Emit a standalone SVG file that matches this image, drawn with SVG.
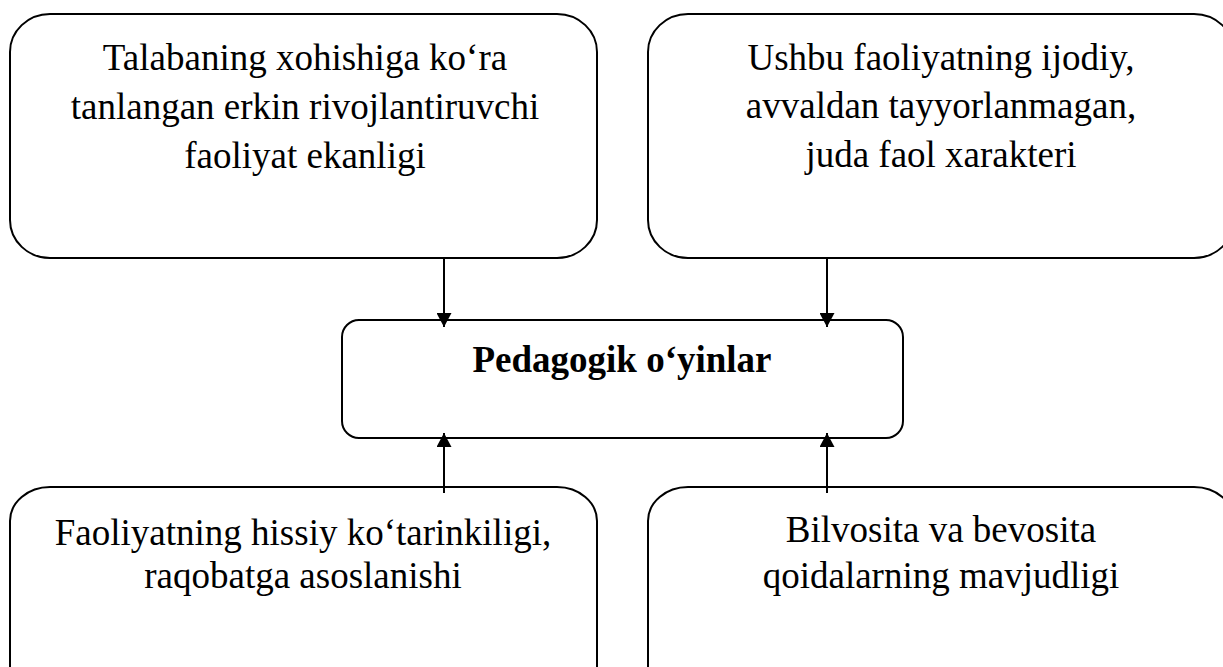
<svg xmlns="http://www.w3.org/2000/svg" width="1223" height="667" viewBox="0 0 1223 667">
<style>
.box{fill:#ffffff;stroke:#000000;stroke-width:2}
.t{font-family:"Liberation Serif","Times New Roman",serif;font-size:37px;fill:#000000;text-anchor:middle}
.b{font-weight:bold}
.con{stroke:#000000;stroke-width:2;fill:none}
</style>
<defs>
<marker id="ah" viewBox="0 0 14 15" refX="14" refY="7.5" markerWidth="14" markerHeight="15" markerUnits="userSpaceOnUse" orient="auto">
<path d="M0,0 L14,7.5 L0,15 Z" fill="#000000"/>
</marker>
</defs>
<rect width="1223" height="667" fill="#ffffff"/>
<g id="node-top-left">
<rect class="box" x="10" y="14" width="587" height="244" rx="40" ry="38"/>
<text class="t" x="305" y="70">Talabaning xohishiga ko‘ra</text>
<text class="t" x="305" y="119">tanlangan erkin rivojlantiruvchi</text>
<text class="t" x="305" y="168">faoliyat ekanligi</text>
</g>
<g id="node-top-right">
<rect class="box" x="648" y="14" width="586" height="244" rx="40" ry="38"/>
<text class="t" x="941" y="70">Ushbu faoliyatning ijodiy,</text>
<text class="t" x="941" y="118">avvaldan tayyorlanmagan,</text>
<text class="t" x="941" y="167">juda faol xarakteri</text>
</g>
<g id="node-center">
<rect class="box" x="342" y="320" width="561" height="118" rx="17" ry="17"/>
<text class="t b" x="622" y="372">Pedagogik o‘yinlar</text>
</g>
<g id="node-bottom-left">
<rect class="box" x="10" y="487" width="587" height="220" rx="40" ry="34"/>
<text class="t" x="303" y="545">Faoliyatning hissiy ko‘tarinkiligi,</text>
<text class="t" x="303" y="588">raqobatga asoslanishi</text>
</g>
<g id="node-bottom-right">
<rect class="box" x="648" y="487" width="586" height="220" rx="40" ry="34"/>
<text class="t" x="941" y="542">Bilvosita va bevosita</text>
<text class="t" x="941" y="588">qoidalarning mavjudligi</text>
</g>
<g id="connectors">
<line class="con" x1="444" y1="258" x2="444" y2="327" marker-end="url(#ah)"/>
<line class="con" x1="827" y1="258" x2="827" y2="327" marker-end="url(#ah)"/>
<line class="con" x1="444" y1="493" x2="444" y2="433" marker-end="url(#ah)"/>
<line class="con" x1="827" y1="493" x2="827" y2="433" marker-end="url(#ah)"/>
</g>
</svg>
